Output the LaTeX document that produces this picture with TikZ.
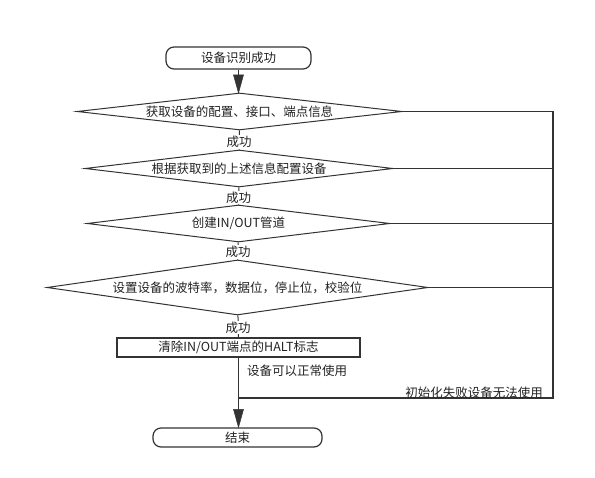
\documentclass[tikz,border=0pt]{standalone}
\usepackage{fontspec}
\setmainfont{Noto Sans CJK SC}
\usetikzlibrary{shapes.geometric}
\definecolor{ln}{HTML}{333333}
\definecolor{tx}{HTML}{222222}
\begin{document}
\begin{tikzpicture}[x=1pt,y=-1pt,
  every node/.style={font=\fontsize{12.5}{15}\selectfont,text=tx},
  term/.style={draw=ln,line width=1.2pt,rounded corners=8pt,inner sep=0pt},
  dec/.style={draw=ln,line width=1pt,diamond,inner sep=0pt},
  proc/.style={draw=ln,line width=1.2pt,rectangle,inner sep=0pt},
  thin/.style={draw=ln,line width=1pt},
  conn/.style={draw=ln,line width=1.8pt},
  arrowhead/.style={fill=ln,draw=ln,line width=0.5pt},
  lbl/.style={fill=white,inner sep=1pt}]
\useasboundingbox (0,0) rectangle (595,478);
\node[term,minimum width=145pt,minimum height=22pt] (start) at (238.5,58) {设备识别成功};
\node[dec,shape aspect=8.78,minimum width=325pt,minimum height=37pt] (d1) at (239.5,111.5) {获取设备的配置、接口、端点信息};
\node[dec,shape aspect=8.32,minimum width=308pt,minimum height=37pt] (d2) at (239,168.5) {根据获取到的上述信息配置设备};
\node[dec,shape aspect=8.19,minimum width=303pt,minimum height=37pt] (d3) at (238.5,223.5) {创建IN/OUT管道};
\node[dec,shape aspect=6.93,minimum width=381pt,minimum height=55pt] (d4) at (237.5,287.5) {设置设备的波特率，数据位，停止位，校验位};
\node[proc,minimum width=243pt,minimum height=19pt] (rect) at (238.5,347.5) {清除IN/OUT端点的HALT标志};
\node[term,minimum width=169pt,minimum height=19pt] (endn) at (237.5,437.5) {结束};
\coordinate (R1) at (553,111.5);
\coordinate (R2) at (553,398);
\coordinate (t1) at (238.5,93);
\coordinate (t2) at (rect.south |- endn.north);
\draw[conn] (start.south) -- (t1);
\path[arrowhead] (238.5,93) -- (233.5,75) -- (243.5,75) -- cycle;
\draw[thin] (d1) -- node[lbl,pos=0.6]{成功} (d2);
\draw[thin] (d2) -- node[lbl,pos=0.6]{成功} (d3);
\draw[thin] (d3) -- node[lbl,pos=0.55]{成功} (d4);
\draw[thin] (d4) -- node[lbl,pos=0.55]{成功} (rect);
\draw[conn] (rect.south) -- (t2);
\path[arrowhead] (t2) -- ++(-5,-18) -- ++(10,0) -- cycle;
\draw[conn] (d1.east) -- (R1) -- (R2) -- (R2 -| rect.south);
\draw[conn] (d2.east) -- (d2.east -| R1);
\draw[conn] (d3.east) -- (d3.east -| R1);
\draw[conn] (d4.east) -- (d4.east -| R1);
\node[anchor=west,inner sep=0pt] (ok) at (247,371) {设备可以正常使用};
\node[anchor=east,inner sep=0pt] (fail) at (543,393) {初始化失败设备无法使用};
\end{tikzpicture}
\end{document}
